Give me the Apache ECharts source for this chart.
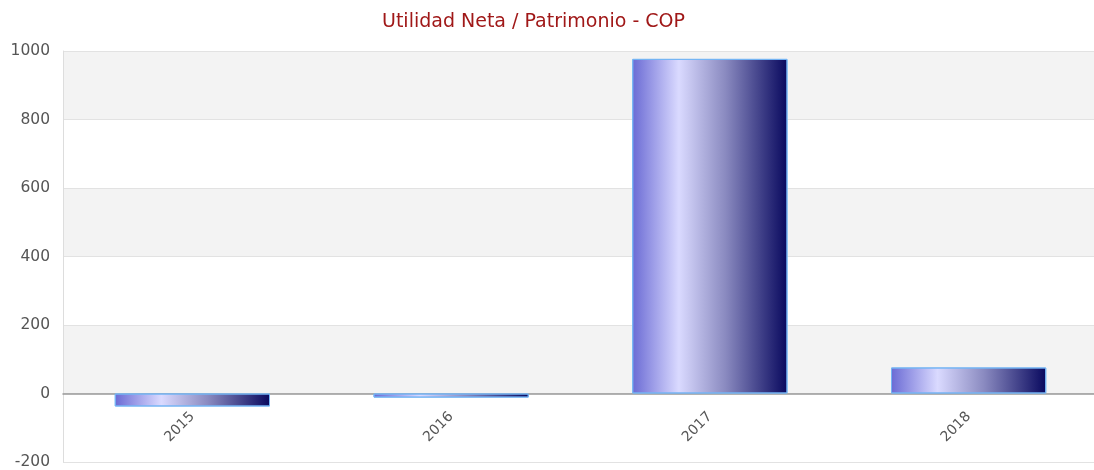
<!DOCTYPE html>
<html>
<head>
<meta charset="utf-8">
<script src="https://cdn.jsdelivr.net/npm/echarts@6/dist/echarts.min.js"></script>
<style>
  html, body { margin: 0; padding: 0; background: #fff; }
  #chart { width: 1094px; height: 470px; }
</style>
</head>
<body>
<div id="chart"></div>
<script>
// Net income / equity ratio by year
const years = ['2015', '2016', '2017', '2018'];
const ratioValues = [-38, -12, 977, 76];
const yTicks = { min: -200, max: 1000, interval: 200 };

const FONT = '"DejaVu Sans", Verdana, sans-serif';

const barGradient = new echarts.graphic.LinearGradient(0, 0, 1, 0, [
  { offset: 0, color: '#6a6ad4' },
  { offset: 0.3, color: '#dadaff' },
  { offset: 0.6, color: '#8a8ac0' },
  { offset: 1, color: '#08085e' }
]);

const chart = echarts.init(document.getElementById('chart'));
chart.setOption({
  animation: false,
  textStyle: { fontFamily: FONT },
  title: {
    text: 'Utilidad Neta / Patrimonio - COP',
    left: 377,
    top: 8,
    textStyle: { color: '#a01818', fontSize: 19, fontWeight: 'normal', fontFamily: FONT }
  },
  grid: { left: 63, right: -4, top: 51, bottom: 8, containLabel: false, outerBoundsMode: 'none' },
  xAxis: {
    type: 'category',
    data: years,
    position: 'bottom',
    axisLine: { onZero: false, lineStyle: { color: '#999', width: 1.5 } },
    axisTick: { show: false },
    axisLabel: { rotate: 45, color: '#555', fontSize: 14, margin: 21, fontFamily: FONT },
    splitLine: { show: false }
  },
  yAxis: {
    type: 'value',
    min: yTicks.min,
    max: yTicks.max,
    interval: yTicks.interval,
    axisLine: { show: true, lineStyle: { color: '#ddd' } },
    axisTick: { show: false },
    axisLabel: { color: '#555', fontSize: 15.5, margin: 13, fontFamily: FONT, formatter: v => String(v) },
    splitLine: { lineStyle: { color: '#e2e2e2' } },
    splitArea: { show: true, areaStyle: { color: ['#ffffff', '#f3f3f3'] } }
  },
  series: [{
    type: 'bar',
    data: ratioValues,
    barWidth: '60%',
    itemStyle: { color: barGradient, borderColor: '#74b4f4', borderWidth: 1 }
  }]
});

// Lift the category axis (line and labels) up to the y = 0 level
const zeroY = chart.convertToPixel({ yAxisIndex: 0 }, 0);
const bottomY = chart.convertToPixel({ yAxisIndex: 0 }, yTicks.min);
chart.setOption({ xAxis: { offset: -(bottomY - zeroY) } });
</script>
</body>
</html>
